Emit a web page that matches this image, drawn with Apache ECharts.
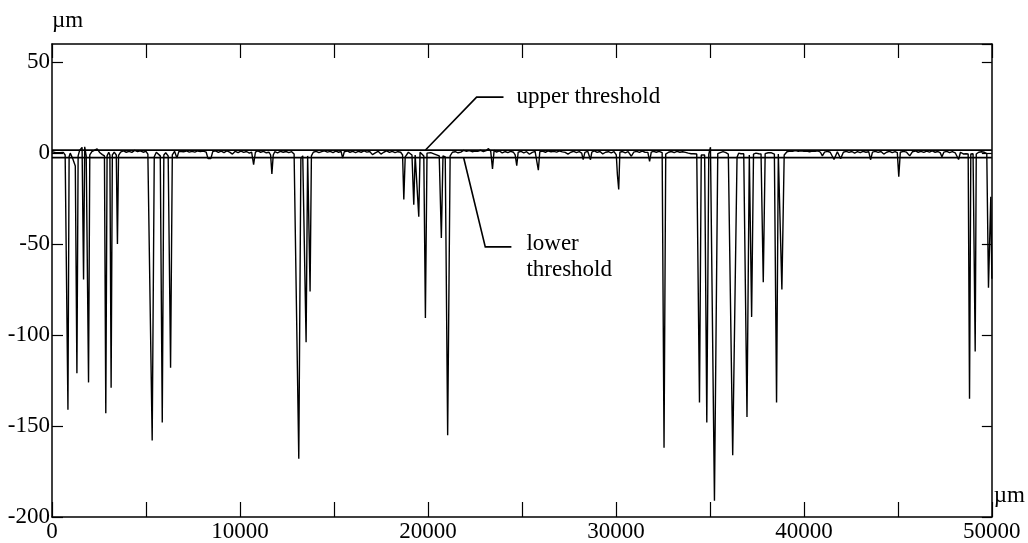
<!DOCTYPE html>
<html>
<head>
<meta charset="utf-8">
<script src="https://cdn.jsdelivr.net/npm/echarts@6/dist/echarts.min.js"></script>
<style>
html,body{margin:0;padding:0;background:#fff;}
#c{width:1028px;height:543px;}
</style>
</head>
<body>
<div id="c"></div>
<script>
// ---- data (µm) ----
const positionsUm = [
  // 0 - 4000
  0,100,200,300,400,500,600,700,780,848,
  910,970,1100,1240,1325,1390,1470,1600,1679,1740,
  1820,1880,1944,2010,2120,2250,2400,2550,2680,2790,
  2862,2930,3020,3080,3145,3210,3310,3420,3481,3540,
  3650,3800,3950,
  // 4000 - 8000
  4100,4250,4400,4550,4700,4850,5000,5100,5180,5330,
  5440,5550,5650,5760,5866,5950,6050,6180,6308,6400,
  6520,6644,6750,6850,7000,7150,7300,7450,7600,7750,
  7900,
  // 8000 - 13000
  8050,8200,8300,8450,8550,8700,8850,9000,9150,9300,
  9450,9600,9750,9900,10050,10200,10350,10500,10620,10726,
  10820,10950,11100,11250,11400,11550,11630,11698,11770,11850,
  12000,12150,12300,12450,12600,12750,12880,12960,
  // 13000 - 16000
  13129,13240,13340,13430,13518,13600,13660,13730,13800,13900,
  14050,14200,14350,14500,14650,14800,14950,15100,15250,15380,
  15461,15550,15700,15850,16000,
  // 16000 - 21500
  16150,16300,16450,16600,16750,16900,17050,17200,17350,17500,
  17650,17800,17950,18100,18250,18400,18550,18650,18716,18790,
  18893,18960,19050,19150,19246,19320,19420,19512,19580,19680,
  19780,19865,19950,20050,20150,20250,20350,20450,20600,20713,
  20800,20920,21049,21180,21300,21450,
  // 21500 - 32000
  21600,21750,21900,22050,22200,22350,22500,22650,22800,22950,
  23100,23222,23340,23434,23520,23650,23800,23950,24100,24250,
  24400,24550,24640,24724,24800,24950,25100,25250,25400,25550,
  25700,25800,25873,25950,26100,26250,26400,26550,26700,26850,
  27000,27150,27300,27450,27600,27750,27900,28050,28180,28258,
  28350,28500,28580,28647,28720,28850,29000,29150,29300,29450,
  29600,29750,29900,30020,30080,30149,30210,30350,30500,30650,
  30820,30950,31100,31250,31400,31550,31700,31792,31880,
  // 32000 - 39000
  32000,32150,32300,32460,32560,32650,32800,32950,33100,33250,
  33400,33550,33700,33850,34000,34150,34300,34360,34446,34540,
  34623,34720,34835,34940,35030,35242,35418,35550,35700,35850,
  35980,36060,36213,36443,36530,36650,36800,36973,37097,37220,
  37320,37450,37600,37720,37839,37940,38100,38250,38430,38546,
  38640,38740,38829,38952,
  // 39000 - 50000
  39100,39250,39400,39550,39700,39850,40000,40150,40300,40450,
  40600,40750,40880,40984,41100,41250,41400,41500,41603,41780,
  41956,42100,42250,42400,42550,42700,42850,43000,43150,43300,
  43450,43546,43650,43800,43950,44100,44250,44400,44550,44700,
  44850,44970,45048,45130,45300,45450,45631,45780,45930,46080,
  46230,46380,46530,46680,46830,46980,47130,47250,47345,47450,
  47600,47750,47900,48050,48150,48229,48330,48500,48620,48740,
  48812,48880,49000,49060,49113,49170,49300,49450,49600,49730,
  49820,49943,50000
];

const heightsUm = [
  // 0 - 4000
  0.8,1.2,0.3,1.0,0.2,-0.5,0.4,-1.0,-1.5,-141,
  -2.0,0.0,-3.0,-7.0,-121,-1.5,1.5,3.2,-69.5,3.5,
  -1.5,-1.5,-126,-1.0,0.8,1.5,2.4,0.2,-0.8,-1.5,
  -143,-1.5,0.5,-1.0,-129,-1.0,0.6,-1.0,-50,-1.2,
  0.6,1.2,0.5,
  // 4000 - 8000
  1.0,0.4,1.5,0.8,1.3,0.5,1.0,-0.5,-1.2,-158,
  -2.0,0.5,-0.5,-1.5,-148,-1.0,0.2,-1.5,-118,-1.0,
  1.0,-2.7,1.0,1.5,0.8,1.2,0.6,1.0,0.6,1.2,
  0.9,
  // 8000 - 13000
  1.1,0.6,-3.0,-3.0,0.8,1.3,0.4,1.1,0.3,1.2,
  0.6,-0.5,1.0,0.3,1.1,0.4,0.9,0.0,0.6,-6.3,
  0.5,1.2,0.5,1.0,0.2,0.5,-1.0,-11.4,-1.0,0.8,
  0.2,1.0,0.5,0.9,0.3,0.8,-0.5,-1.5,
  // 13000 - 16000
  -168,-3.0,-1.5,-2.0,-104,-1.5,-2.0,-76,-1.5,0.5,
  1.0,0.3,0.8,1.3,0.6,1.0,0.3,1.1,0.5,1.0,
  -2.7,0.8,1.2,0.5,1.0,
  // 16000 - 21500
  0.3,1.0,0.5,1.2,0.6,0.9,-0.8,0.2,1.0,-0.5,
  0.5,1.2,0.4,1.0,0.3,0.8,0.5,-1.0,-25.5,-2.0,
  -3.0,0.5,1.0,-1.0,-28.3,-1.0,-1.5,-35,0.5,1.0,
  -1.5,-90.6,0.0,1.0,0.3,0.8,-0.5,0.3,-1.5,-46.6,
  -1.5,-2.0,-155,-1.5,0.5,0.8,
  // 21500 - 32000
  0.2,0.6,1.5,1.0,1.4,0.8,1.2,1.0,1.6,0.9,
  1.4,2.5,1.0,-8.7,1.5,0.6,1.2,0.2,0.9,0.3,
  1.0,0.5,-1.0,-6.9,0.5,1.0,0.2,0.8,-0.6,0.4,
  1.0,0.6,-9.4,0.8,1.1,0.5,1.2,0.8,1.0,0.6,
  1.2,0.7,0.4,-0.5,0.5,1.0,0.3,0.8,0.0,-3.6,
  0.4,1.0,0.2,-3.6,0.6,1.2,0.4,0.9,-0.4,0.5,
  0.8,0.2,0.9,-1.0,-12,-20,0.5,0.9,0.2,0.8,
  -1.7,0.6,1.0,0.4,1.1,0.5,0.4,-4.5,0.6,
  // 32000 - 39000
  1.0,0.5,1.0,0.3,-162,-0.5,0.5,0.9,0.3,1.0,
  0.5,0.8,0.4,0.0,-0.3,-0.3,-0.5,-1.0,-137,-1.0,
  -0.5,-1.0,-148,-0.5,3.3,-191,-0.3,0.3,0.8,0.3,
  -0.5,-0.5,-166,-2.3,0.0,-0.3,-0.3,-145,-1.0,-90,
  -0.5,0.0,-0.3,-0.5,-71,-0.3,0.2,0.3,-0.5,-137,
  -0.5,-0.5,-75,-1.0,
  // 39000 - 50000
  0.8,1.2,1.0,1.4,1.0,1.3,1.0,1.2,0.8,1.2,
  1.0,1.3,0.5,-1.5,0.6,1.0,0.5,1.0,-3.5,0.8,
  -3.0,0.5,1.0,0.4,0.9,0.0,0.8,0.3,1.0,0.5,
  0.8,-3.6,0.6,1.0,0.4,0.9,-0.5,0.5,1.0,0.3,
  0.8,0.3,-13,0.5,1.0,0.6,-1.5,0.8,1.2,0.5,
  1.0,0.4,1.1,0.6,1.2,0.5,0.9,0.3,-2.0,0.6,
  1.0,0.3,0.8,0.2,0.5,-3.5,0.5,-0.5,-0.3,-0.5,
  -135,-0.5,-0.3,-0.5,-109,-0.5,0.5,0.8,0.5,-0.3,
  -74,-24,-69
];

const upperThreshold = 1.7;
const lowerThreshold = -2.5;

const xRange = [0, 50000];
const xTickStep = 5000;
const xLabelStep = 10000;
const yRange = [-200, 60];
const yTickStep = 50;

// annotation anchor points in data coordinates
const upperLeader = [[19870, upperThreshold], [22590, 30.8], [24020, 30.8]];
const upperLabelAt = [24707, 26.6];
const lowerLeader = [[21900, lowerThreshold], [23050, -51.5], [24440, -51.5]];
const lowerLabelAt = [[25237, -54], [25237, -68.3]];
const upperLabel = 'upper threshold';
const lowerLabelLines = ['lower', 'threshold'];
const unitLabel = 'µm';

// ---- chart ----
const FONT = '"Liberation Serif", "Times New Roman", "DejaVu Serif", serif';
const FS = 23;
const n = Math.min(positionsUm.length, heightsUm.length);
const profile = [];
for (let i = 0; i < n; i++) profile.push([positionsUm[i], heightsUm[i]]);

const chart = echarts.init(document.getElementById('c'), null, {renderer: 'canvas'});
const lineCol = '#000';
const axisLine = {show: true, onZero: false, lineStyle: {color: lineCol, width: 1.5}};

const option = {
  animation: false,
  backgroundColor: '#fff',
  grid: {left: 52, right: 33, top: 44, bottom: 26},
  xAxis: [
    {
      type: 'value', min: xRange[0], max: xRange[1], interval: xTickStep, position: 'bottom',
      axisLine: axisLine,
      axisTick: {show: true, inside: true, length: 15, lineStyle: {color: lineCol, width: 1.2}},
      axisLabel: {
        formatter: v => (v % xLabelStep === 0 ? String(v) : ''),
        fontFamily: FONT, fontSize: FS, color: '#000', margin: 3
      },
      splitLine: {show: false},
      name: unitLabel, nameLocation: 'end', nameGap: 2,
      nameTextStyle: {fontFamily: FONT, fontSize: FS, color: '#000', align: 'left', verticalAlign: 'bottom', padding: [0, 0, 10, 0]}
    },
    {
      type: 'value', min: xRange[0], max: xRange[1], interval: xTickStep, position: 'top',
      axisLine: axisLine,
      axisTick: {show: true, inside: true, length: 14, lineStyle: {color: lineCol, width: 1.2}},
      axisLabel: {show: false},
      splitLine: {show: false}
    }
  ],
  yAxis: [
    {
      type: 'value', min: yRange[0], max: yRange[1], interval: yTickStep, position: 'left',
      axisLine: axisLine,
      axisTick: {show: true, inside: true, length: 11, lineStyle: {color: lineCol, width: 1.2}},
      axisLabel: {fontFamily: FONT, fontSize: FS, color: '#000', margin: 2, showMaxLabel: false},
      splitLine: {show: false},
      name: unitLabel, nameLocation: 'end', nameGap: 12,
      nameTextStyle: {fontFamily: FONT, fontSize: FS, color: '#000', align: 'left', verticalAlign: 'bottom'}
    },
    {
      type: 'value', min: yRange[0], max: yRange[1], interval: yTickStep, position: 'right',
      axisLine: axisLine,
      axisTick: {show: true, inside: true, length: 10, lineStyle: {color: lineCol, width: 1.2}},
      axisLabel: {show: false},
      splitLine: {show: false}
    }
  ],
  series: [
    {
      type: 'line', data: profile, symbol: 'none', showSymbol: false, sampling: null,
      lineStyle: {color: lineCol, width: 1.4}, z: 3, silent: true
    },
    {
      type: 'line', data: [[xRange[0], upperThreshold], [xRange[1], upperThreshold]],
      symbol: 'none', lineStyle: {color: lineCol, width: 1.8}, z: 4, silent: true
    },
    {
      type: 'line', data: [[xRange[0], lowerThreshold], [xRange[1], lowerThreshold]],
      symbol: 'none', lineStyle: {color: lineCol, width: 1.8}, z: 4, silent: true
    }
  ]
};
chart.setOption(option);

// annotations positioned via the chart's own coordinate system
const toPx = p => chart.convertToPixel({gridIndex: 0}, p);
const BASE_SHIFT = 4; // verticalAlign bottom -> baseline offset
const textEl = (str, at) => {
  const p = toPx(at);
  return {
    type: 'text', z: 10,
    style: {text: str, x: p[0], y: p[1] + BASE_SHIFT, fill: '#000', font: FS + 'px ' + FONT, textAlign: 'left', textVerticalAlign: 'bottom'}
  };
};
chart.setOption({
  graphic: [
    {type: 'polyline', z: 10, shape: {points: upperLeader.map(toPx)}, style: {stroke: '#000', lineWidth: 1.6, fill: null}},
    {type: 'polyline', z: 10, shape: {points: lowerLeader.map(toPx)}, style: {stroke: '#000', lineWidth: 1.6, fill: null}},
    textEl(upperLabel, upperLabelAt),
    textEl(lowerLabelLines[0], lowerLabelAt[0]),
    textEl(lowerLabelLines[1], lowerLabelAt[1])
  ]
});
</script>
</body>
</html>
